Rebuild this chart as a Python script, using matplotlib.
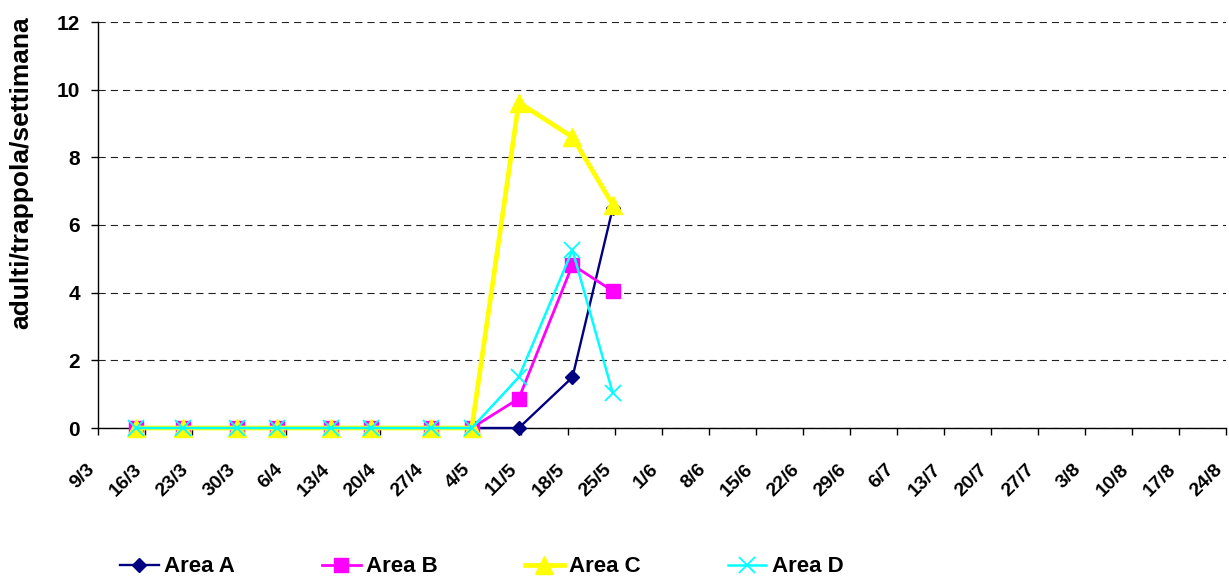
import matplotlib
matplotlib.use("Agg")
import matplotlib.pyplot as plt
import matplotlib.transforms as mtransforms
import pandas as pd

plt.rcParams['font.family'] = ['Liberation Sans', 'DejaVu Sans']
plt.rcParams['font.weight'] = 'bold'

year = 2009
sample_dates = ["14/3", "21/3", "29/3", "4/4", "12/4", "18/4", "27/4", "3/5", "10/5", "18/5", "24/5"]
area_a = [0, 0, 0, 0, 0, 0, 0, 0, 0, 1.5, 6.5]
area_b = [0, 0, 0, 0, 0, 0, 0, 0, 0.87, 4.82, 4.05]
area_c = [0, 0, 0, 0, 0, 0, 0, 0, 9.62, 8.6, 6.6]
area_d = [0, 0, 0, 0, 0, 0, 0, 0, 1.5, 5.26, 1.03]
tick_labels = ["9/3", "16/3", "23/3", "30/3", "6/4", "13/4", "20/4", "27/4", "4/5", "11/5",
               "18/5", "25/5", "1/6", "8/6", "15/6", "22/6", "29/6", "6/7", "13/7", "20/7",
               "27/7", "3/8", "10/8", "17/8", "24/8"]
y_ticks = [0, 2, 4, 6, 8, 10, 12]


def to_date(s):
    d, m = s.split("/")
    return pd.Timestamp(year=year, month=int(m), day=int(d))


# sample points sit mid-day on the date axis
x = [to_date(s) + pd.Timedelta(hours=16) for s in sample_dates]
xt = [to_date(s) for s in tick_labels]

W, H = 1229, 579
fig = plt.figure(figsize=(W / 100, H / 100), dpi=100)
ax = fig.add_axes([98 / W, (H - 428) / H, (1226 - 98) / W, (428 - 22) / H])

ax.plot(x, area_a, color='#000080', lw=1.7, marker='D', ms=7.5, label='Area A', zorder=3, clip_on=False)
ax.plot(x, area_b, color='#FF00FF', lw=2.0, marker='s', ms=10, label='Area B', zorder=4, clip_on=False)
ax.plot(x, area_c, color='#FFFF00', lw=3.4, marker='^', ms=13, label='Area C', zorder=5, clip_on=False)
ax.plot(x, area_d, color='#00FFFF', lw=1.8, marker='x', ms=12, mew=1.3, label='Area D', zorder=6, clip_on=False)

ax.set_xlim(xt[0], xt[-1])
ax.set_ylim(0, 12)
ax.set_yticks(y_ticks)
ax.set_yticklabels([str(v) for v in y_ticks], fontsize=15, fontweight='bold')
ax.set_xticks(xt)
ax.set_xticklabels(tick_labels, fontsize=14, fontweight='bold', rotation=45,
                   ha='right', va='top', rotation_mode='anchor')
ax.tick_params(axis='both', direction='out', length=5, width=1, color='black')
ax.tick_params(axis='y', pad=8)
ax.tick_params(axis='x', pad=18.5)
shift = mtransforms.ScaledTranslation(-12 / 100, 0, fig.dpi_scale_trans)
for lab in ax.get_xticklabels():
    lab.set_transform(lab.get_transform() + shift)

for s in ['top', 'right']:
    ax.spines[s].set_visible(False)
for s in ['left', 'bottom']:
    ax.spines[s].set_color('black')
    ax.spines[s].set_linewidth(1)

ax.grid(axis='y', color='#222222', linestyle=(0, (6.5, 4.5)), linewidth=0.8)
ax.set_axisbelow(True)

ax.set_ylabel('adulti/trappola/settimana', fontsize=19, fontweight='bold')
ax.yaxis.set_label_coords(-0.0576, 0.63)

fig.legend(loc='center left', bbox_to_anchor=(120 / W, 1 - 567 / H), ncol=4, frameon=False,
           prop={'size': 16, 'weight': 'bold'}, handlelength=1.75, columnspacing=3.9,
           handletextpad=0.25, borderpad=0, borderaxespad=0)

fig.savefig('out.png', dpi=100)
